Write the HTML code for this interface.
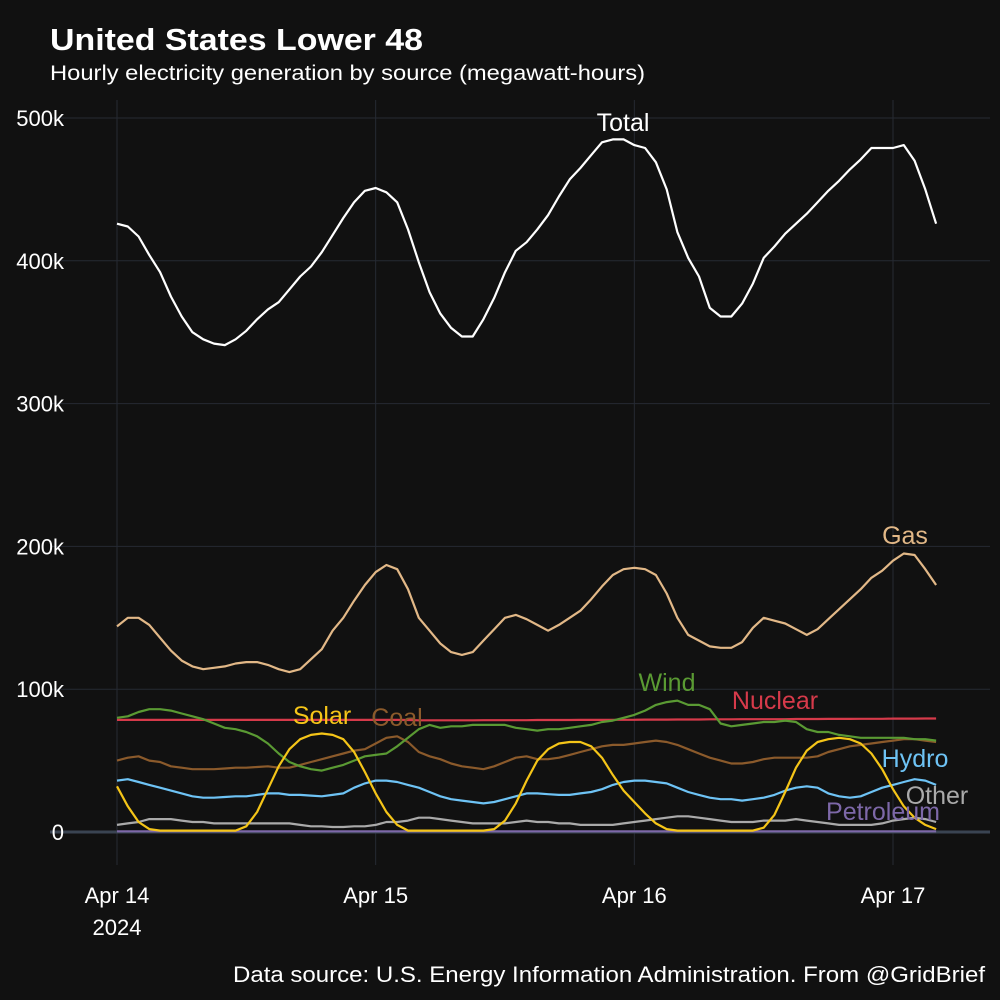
<!DOCTYPE html>
<html><head><meta charset="utf-8">
<style>
html,body{margin:0;padding:0;background:#111111;}
svg{display:block;font-family:"Liberation Sans",Arial,sans-serif;}
</style></head>
<body>
<svg id="chart" width="1000" height="1000" viewBox="0 0 1000 1000">
<rect width="1000" height="1000" fill="#111111"/>
<text x="50" y="50" fill="#ffffff" font-size="31" font-weight="bold" textLength="373" lengthAdjust="spacingAndGlyphs">United States Lower 48</text>
<text x="50" y="80" fill="#ffffff" font-size="21" textLength="595" lengthAdjust="spacingAndGlyphs">Hourly electricity generation by source (megawatt-hours)</text>
<text x="985" y="982" fill="#ffffff" font-size="22" text-anchor="end" textLength="752" lengthAdjust="spacingAndGlyphs">Data source: U.S. Energy Information Administration. From @GridBrief</text>
<g id="grid"></g><g id="axes"></g><g id="series"></g><g id="labels"></g>
</svg>
<script>
const yTicks=[0,100,200,300,400,500];
const yTickLabels=["0","100k","200k","300k","400k","500k"];
const xTicks=[0,24,48,72];
const xTickLabels=["Apr 14","Apr 15","Apr 16","Apr 17"];
const total=[426,424,417,404,392,375,361,350,345,342,341,345,351,359,366,371,380,389,396,406,418,430,441,449,451,448,441,422,399,378,363,353,347,347,359,374,392,407,413,422,432,445,457,465,474,483,485,485,481,479,469,450,420,402,389,367,361,361,370,384,402,410,419,426,433,441,449,456,464,471,479,479,479,481,470,450,426];
const gas=[144,150,150,145,136,127,120,116,114,115,116,118,119,119,117,114,112,114,121,128,141,150,162,173,182,187,184,170,150,141,132,126,124,126,134,142,150,152,149,145,141,145,150,155,163,172,180,184,185,184,180,167,150,138,134,130,129,129,133,143,150,148,146,142,138,142,149,156,163,170,178,183,190,195,194,184,173];
const nuclear=[78.5,78.5,78.5,78.5,78.5,78.5,78.5,78.5,78.5,78.5,78.5,78.5,78.5,78.5,78.5,78.5,78.5,78.5,78.5,78.5,78.5,78.5,78.5,78.5,78.5,78.5,78.5,78.4,78.2,78.2,78.2,78.2,78.2,78.2,78.3,78.3,78.3,78.3,78.3,78.4,78.4,78.4,78.4,78.5,78.5,78.5,78.6,78.6,78.6,78.7,78.7,78.7,78.8,78.8,78.8,78.9,78.9,78.9,79,79,79,79,79,79.1,79.1,79.1,79.2,79.2,79.2,79.3,79.3,79.3,79.4,79.4,79.4,79.5,79.5];
const wind=[80,81,84,86,86,85,83,81,79,76,73,72,70,67,62,55,49,46,44,43,45,47,50,53,54,55,60,66,72,75,73,74,74,75,75,75,75,73,72,71,72,72,73,74,75,77,78,80,82,85,89,91,92,89,89,86,76,74,75,76,77,77,78,77,72,70,70,68,67,66,66,66,66,66,65,65,64];
const solar=[32,18,7,2,1,1,1,1,1,1,1,1,4,14,30,46,58,65,68,69,68,65,56,42,27,14,5,1,1,1,1,1,1,1,1,2,8,20,36,50,58,62,63,63,60,52,40,29,21,13,6,2,1,1,1,1,1,1,1,1,3,12,28,45,57,63,65,66,65,62,55,44,30,18,10,5,2];
const coal=[50,52,53,50,49,46,45,44,44,44,44.5,45,45,45.5,46,45,45,47,49,51,53,55,57,58,62,66,67,63,56,53,51,48,46,45,44,46,49,52,53,51,51,52,54,56,58,60,61,61,62,63,64,63,61,58,55,52,50,48,48,49,51,52,52,52,52,53,56,58,60,61,62,63,64,65,65,64,63];
const hydro=[36,37,35,33,31,29,27,25,24,24,24.5,25,25,26,27,27,26,26,25.5,25,26,27,31,34,36,36,35,33,31,28,25,23,22,21,20,21,23,25,27,27,26.5,26,26,27,28,30,33,35,36,36,35,34,31,28,26,24,23,23,22,23,24,26,29,31,32,31,27,25,24,25,28,31,33,35,37,36,33];
const other=[5,6,7,9,9,9,8,7,7,6,6,6,6,6,6,6,6,5,4,4,3.5,3.5,4,4,5,7,7,8,10,10,9,8,7,6,6,6,6,7,8,7,7,6,6,5,5,5,5,6,7,8,9,10,11,11,10,9,8,7,7,7,8,8,8,9,8,7,6,5,5,5,5,6,8,9,10,9,7];
const petroleum=total.map(()=>0.5);

const NS="http://www.w3.org/2000/svg";
const X0=117, PXH=(893-117)/72, Y0=832, PXK=(832-118)/500;
function xs(h){return X0+h*PXH;}
function ys(v){return Y0-v*PXK;}
function mk(tag,attrs,parent){const e=document.createElementNS(NS,tag);for(const k in attrs)e.setAttribute(k,attrs[k]);parent.appendChild(e);return e;}
const grid=document.getElementById('grid'),axes=document.getElementById('axes'),ser=document.getElementById('series'),lab=document.getElementById('labels');

yTicks.forEach((t,i)=>{
  const l=mk('line',{x1:50,x2:990,y1:ys(t),y2:ys(t),stroke:'#262a33','stroke-width':1},grid);
  
  
  const tx=mk('text',{x:64,y:ys(t)+8,fill:'#ffffff','font-size':22,'text-anchor':'end'},axes);
  tx.textContent=yTickLabels[i];
  
  
});
xTicks.forEach((t,i)=>{
  const l=mk('line',{x1:xs(t),x2:xs(t),y1:100,y2:865,stroke:'#262a33','stroke-width':1},grid);
  
  
  const tx=mk('text',{x:xs(t),y:903,fill:'#ffffff','font-size':22,'text-anchor':'middle'},axes);
  tx.textContent=xTickLabels[i];
  
  
});
const yr=mk('text',{x:xs(0),y:935,fill:'#ffffff','font-size':22,'text-anchor':'middle'},axes);
yr.textContent='2024';


const zl=mk('line',{x1:50,x2:990,y1:Y0,y2:Y0,stroke:'#3a4452','stroke-width':3},grid);



const seriesDefs=[
 ['petroleum',petroleum,'#7d68a8','Petroleum',883,820],
 ['other',other,'#aaaaaa','Other',937,804],
 ['hydro',hydro,'#6ec3f5','Hydro',915,767],
 ['coal',coal,'#8b5a2b','Coal',397,726],
 ['nuclear',nuclear,'#d63a4a','Nuclear',775,709],
 ['wind',wind,'#5a9a33','Wind',667,691],
 ['gas',gas,'#e2b887','Gas',905,544],
 ['solar',solar,'#f5c518','Solar',322,724],
 ['total',total,'#ffffff','Total',623,131]
];
seriesDefs.forEach(([key,arr,col,name,lx,ly])=>{
  const d=arr.map((v,i)=>(i?'L':'M')+xs(i).toFixed(1)+','+ys(v).toFixed(1)).join(' ');
  const p=mk('path',{d:d,fill:'none',stroke:col,'stroke-width':2.2,'stroke-linejoin':'round'},ser);
  
  
  const t=mk('text',{x:lx,y:ly,fill:col,'font-size':25,'text-anchor':'middle'},lab);
  t.textContent=name;
  
  
});
</script>
</body></html>
